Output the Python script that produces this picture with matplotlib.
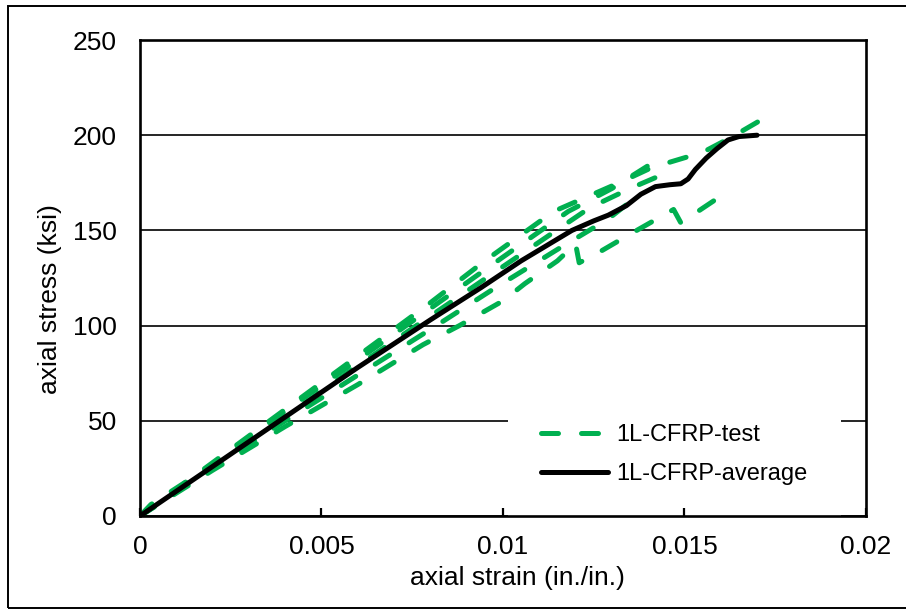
import numpy as np
import matplotlib
matplotlib.use('Agg')
from matplotlib import pyplot as plt
from matplotlib.patches import Rectangle

plt.rcParams['font.family'] = ['Liberation Sans', 'DejaVu Sans']

# test curves (strain in./in., stress ksi)
t1_x = [0, 0.002, 0.004, 0.006, 0.008, 0.0095, 0.0114, 0.0132, 0.0141, 0.0148, 0.0155, 0.0163, 0.0172]
t1_y = [0, 28, 56, 84, 112, 134, 160, 175, 183, 187, 191, 199, 209]
t2_x = [0, 0.0003, 0.002, 0.004, 0.006, 0.008, 0.010, 0.0118, 0.0130, 0.0140]
t2_y = [0, 6, 27, 55, 82, 109, 136, 160, 172, 184]
t3_x = [0, 0.002, 0.004, 0.006, 0.008, 0.010, 0.0124, 0.0135, 0.0146]
t3_y = [0, 26, 52, 79, 105, 131, 162, 172, 181]
t4_x = [0, 0.002, 0.004, 0.006, 0.008, 0.0098, 0.0115, 0.0129, 0.0137]
t4_y = [0, 25, 50, 74, 98, 120, 140, 156, 168]
t5_x = [0, 0.002, 0.004, 0.006, 0.0078, 0.0088, 0.0100, 0.0106, 0.0115, 0.0120, 0.0121,
        0.0126, 0.0135, 0.0147, 0.0149, 0.0160]
t5_y = [0, 24, 47, 69, 90, 100, 113, 122, 134, 143, 133, 138, 148, 161, 154, 168]

tests = [(t1_x, t1_y), (t2_x, t2_y), (t3_x, t3_y), (t4_x, t4_y), (t5_x, t5_y)]

avg_x = [0, 0.001, 0.002, 0.004, 0.006, 0.008, 0.0094, 0.0105, 0.0112, 0.0119, 0.0125, 0.0129,
         0.0134, 0.0138, 0.0142, 0.0146, 0.0149, 0.0151, 0.0153, 0.0156, 0.0159, 0.0162,
         0.0165, 0.0170]
avg_y = [0, 13, 26, 52, 78, 103, 120, 134, 142, 150, 155, 158, 163, 169, 173, 174, 174.5,
         177, 182, 188, 193, 197.5, 199.3, 200]

x_ticks = [0, 0.005, 0.01, 0.015, 0.02]
x_labels = ['0', '0.005', '0.01', '0.015', '0.02']
y_ticks = [0, 50, 100, 150, 200, 250]

green = '#00B050'

fig = plt.figure(figsize=(9.06, 6.11), dpi=100)
ax = fig.add_axes([0.1545, 0.1555, 0.8013, 0.779])

for i, (x, y) in enumerate(tests):
    ax.plot(x, y, color=green, lw=3.6, linestyle=(0, (3.4, 4.6)), dash_capstyle='round',
            label='1L-CFRP-test' if i == 0 else None)
ax.plot(avg_x, avg_y, color='black', lw=3.6, solid_capstyle='round', solid_joinstyle='round',
        label='1L-CFRP-average')

ax.set_xlim(0, 0.02)
ax.set_ylim(0, 250)
ax.set_xticks(x_ticks)
ax.set_xticklabels(x_labels)
ax.set_yticks(y_ticks)
ax.yaxis.grid(True, color='black', lw=1.2)
ax.tick_params(axis='x', direction='in', length=5.5, width=1.6, labelsize=19, pad=13.5)
ax.tick_params(axis='y', direction='in', length=0, labelsize=19, pad=16.5)
for s in ax.spines.values():
    s.set_linewidth(1.9)
    s.set_zorder(6)
ax.xaxis.set_zorder(6)

ax.set_xlabel('axial strain (in./in.)', fontsize=19, va='center')
ax.xaxis.set_label_coords(0.52, -0.130)
ax.set_ylabel('axial stress (ksi)', fontsize=19, va='center')
ax.yaxis.set_label_coords(-0.124, 0.456)

leg = ax.legend(loc='upper left', bbox_to_anchor=(0.507, 0.262), fontsize=17, frameon=True,
                fancybox=False, framealpha=1, facecolor='white', edgecolor='none',
                borderpad=1.4, handlelength=2.85, handletextpad=0.35, labelspacing=0.72,
                borderaxespad=0)

fig.patches.append(Rectangle((0.0088, 0.0049), 1.0, 0.985, transform=fig.transFigure,
                             fill=False, edgecolor='black', lw=1.4))

fig.savefig('out.png', dpi=100)
